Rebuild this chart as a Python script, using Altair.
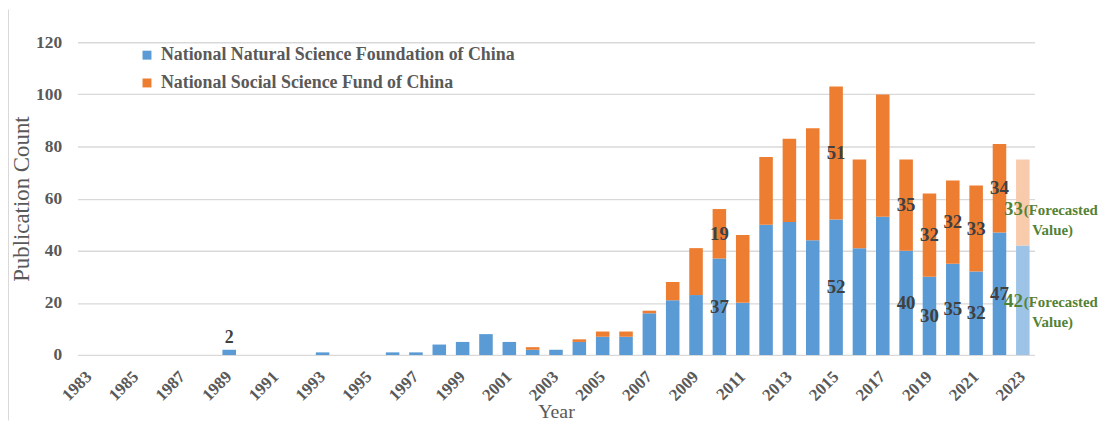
import altair as alt
import pandas as pd

# ---------------- data ----------------
years = list(range(1983, 2024))
nsfc = [0, 0, 0, 0, 0, 0,          # 1983-1988
        2, 0, 0, 0,                # 1989-1992
        1, 0, 0, 1, 1,             # 1993-1997
        4, 5, 8, 5, 2,             # 1998-2002
        2, 5, 7, 7, 16,            # 2003-2007
        21, 23, 37, 20, 50,        # 2008-2012
        51, 44, 52, 41, 53,        # 2013-2017
        40, 30, 35, 32, 47,        # 2018-2022
        42]                        # 2023 (forecast)
nssf = [0, 0, 0, 0, 0, 0,
        0, 0, 0, 0,
        0, 0, 0, 0, 0,
        0, 0, 0, 0, 1,
        0, 1, 2, 2, 1,
        7, 18, 19, 26, 26,
        32, 43, 51, 34, 47,
        35, 32, 32, 33, 34,
        33]
assert len(years) == len(nsfc) == len(nssf)

forecast_year = 2023
series = ["National Natural Science Foundation of China",
          "National Social Science Fund of China"]
series_fc = [s + " (Forecast)" for s in series]
colors = ["#5b9bd5", "#ed7d31"]
colors_fc = ["#9dc3e6", "#f8cbad"]

labeled_years = [2010, 2015, 2018, 2019, 2020, 2021, 2022]
top_label_years = [1989]
tick_years = [str(y) for y in years[::2]]

FONT = "Liberation Serif"
GRAY = "#595959"
DARK = "#404040"
GREEN = "#548235"

# ---------------- tables ----------------
rows = []
for y, a, b in zip(years, nsfc, nssf):
    fc = y == forecast_year
    rows.append({"year": str(y), "value": a, "key": (series_fc if fc else series)[0], "order": 0})
    rows.append({"year": str(y), "value": b, "key": (series_fc if fc else series)[1], "order": 1})
df = pd.DataFrame(rows)

lab_blue = pd.DataFrame([{"year": str(y), "mid": a / 2, "text": str(a)}
                         for y, a in zip(years, nsfc) if y in labeled_years])
lab_orange = pd.DataFrame([{"year": str(y), "mid": a + b / 2, "text": str(b)}
                           for y, a, b in zip(years, nsfc, nssf) if y in labeled_years])
lab_top = pd.DataFrame([{"year": str(y), "top": a + b, "text": str(a + b)}
                        for y, a, b in zip(years, nsfc, nssf) if y in top_label_years])
fi = years.index(forecast_year)
fc_blue = pd.DataFrame([{"year": str(forecast_year), "mid": nsfc[fi] / 2, "text": str(nsfc[fi])}])
fc_orange = pd.DataFrame([{"year": str(forecast_year), "mid": nsfc[fi] + nssf[fi] / 2, "text": str(nssf[fi])}])

year_order = [str(y) for y in years]

# ---------------- encodings ----------------
x_enc = alt.X(
    "year:N", sort=year_order, title="Year",
    scale=alt.Scale(domain=year_order, paddingInner=0.42, paddingOuter=0.21),
    axis=alt.Axis(values=tick_years, labelAngle=315, labelAlign="right", labelBaseline="middle",
                  labelPadding=19, ticks=False, domain=False, grid=False,
                  labelFont=FONT, labelFontSize=17, labelFontWeight="bold", labelColor=GRAY,
                  titleFont=FONT, titleFontSize=20, titleFontWeight="normal", titleColor=GRAY,
                  titleBaseline="alphabetic", titleY=63),
)
y_scale = alt.Scale(domain=[0, 120])
y_axis = alt.Axis(values=[0, 20, 40, 60, 80, 100, 120], grid=True, gridColor="#d9d9d9", gridWidth=1.3,
                  ticks=False, domain=False, labelPadding=16,
                  labelFont=FONT, labelFontSize=17.5, labelFontWeight="bold", labelColor=GRAY,
                  titleFont=FONT, titleFontSize=23, titleFontWeight="normal", titleColor=GRAY,
                  titlePadding=2)
YT = "Publication Count"

bars = alt.Chart(df).mark_bar().encode(
    x=x_enc,
    y=alt.Y("value:Q", stack="zero", scale=y_scale, axis=y_axis, title=YT),
    color=alt.Color("key:N",
                    scale=alt.Scale(domain=series + series_fc, range=colors + colors_fc),
                    legend=alt.Legend(values=series, title=None, orient="none",
                                      legendX=61, legendY=4, symbolType="square", symbolSize=81,
                                      labelFont=FONT, labelFontSize=18, labelFontWeight="bold",
                                      labelColor=GRAY, rowPadding=10, labelOffset=5, padding=0,
                                      symbolStrokeWidth=0, labelLimit=600)),
    order=alt.Order("order:Q"),
)

txt_kw = dict(font=FONT, fontWeight="bold", color=DARK, baseline="middle", align="center")

t_blue = alt.Chart(lab_blue).mark_text(fontSize=19, **txt_kw).encode(
    x=alt.X("year:N", sort=year_order, title="Year"),
    y=alt.Y("mid:Q", scale=y_scale, title=YT), text="text:N")
t_orange = alt.Chart(lab_orange).mark_text(fontSize=19, **txt_kw).encode(
    x=alt.X("year:N", sort=year_order, title="Year"),
    y=alt.Y("mid:Q", scale=y_scale, title=YT), text="text:N")
t_top = alt.Chart(lab_top).mark_text(fontSize=18, dy=-12, **txt_kw).encode(
    x=alt.X("year:N", sort=year_order, title="Year"),
    y=alt.Y("top:Q", scale=y_scale, title=YT), text="text:N")

fc_kw = dict(font=FONT, fontWeight="bold", color=GREEN, baseline="middle")


def fc_layers(frame, dy1, dy2):
    enc = dict(x=alt.X("year:N", sort=year_order, title="Year"),
               y=alt.Y("mid:Q", scale=y_scale, title=YT))
    num = alt.Chart(frame).mark_text(fontSize=19, align="right", dx=0, dy=dy1, **fc_kw).encode(
        text="text:N", **enc)
    w1 = alt.Chart(frame).mark_text(fontSize=15, align="left", dx=1, dy=dy1 + 1, **fc_kw).encode(
        text=alt.value("(Forecasted"), **enc)
    w2 = alt.Chart(frame).mark_text(fontSize=15, align="center", dx=30, dy=dy2, **fc_kw).encode(
        text=alt.value("Value)"), **enc)
    return [num, w1, w2]


border = alt.Chart(pd.DataFrame({"a": [0]})).mark_rule(color="#d9d9d9", strokeWidth=1).encode(
    x=alt.value(-69.5), y=alt.value(-33), y2=alt.value(381))

chart = alt.layer(
    bars, t_blue, t_orange, t_top,
    *fc_layers(fc_blue, 1, 22),
    *fc_layers(fc_orange, 7, 28),
    border,
).properties(
    width=964, height=315,
    autosize=alt.AutoSizeParams(type="none"),
    padding={"left": 70, "top": 33, "right": 68, "bottom": 66},
    background="white",
).configure_view(stroke=None)

chart.save("out.html", embed_options={"renderer": "svg", "actions": False})
